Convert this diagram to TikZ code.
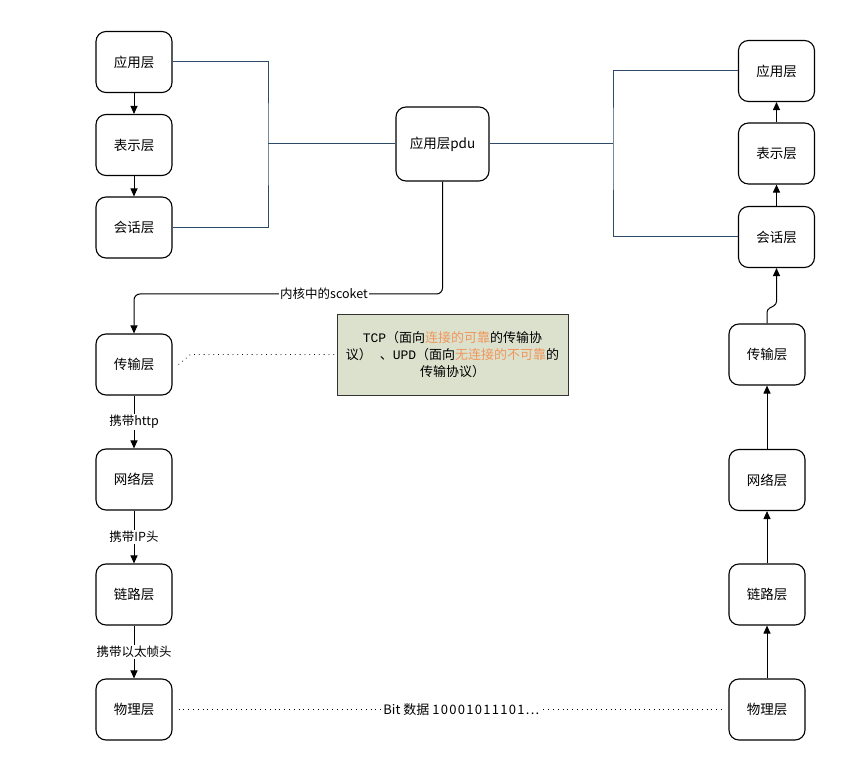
\documentclass[tikz,border=0pt]{standalone}
\usepackage{fontspec}
\setmainfont{Noto Sans CJK SC}
\newfontfamily\monofont{Liberation Mono}
\usetikzlibrary{arrows.meta}
\definecolor{bl}{RGB}{47,74,105}
\definecolor{calfill}{RGB}{220,225,206}
\definecolor{org}{RGB}{240,150,90}
\begin{document}
\begin{tikzpicture}[x=1pt,y=-1pt,
  layer/.style={draw=black,line width=1.1pt,rounded corners=10pt,minimum width=76pt,minimum height=61pt,inner sep=0pt,font=\fontsize{13.5}{15}\selectfont},
  arr/.style={line width=1pt,-{Triangle[length=8pt,width=7pt]}},
  bline/.style={draw=bl,line width=1pt},
  lab/.style={fill=white,inner sep=1pt,font=\fontsize{12.5}{14}\selectfont},
  dots/.style={line width=0.8pt,dash pattern=on 0.8pt off 4pt}]
\useasboundingbox (0,0) rectangle (868,762);
\fill[white] (0,0) rectangle (868,762);
% left column
\node[layer] (L1) at (134,62) {应用层};
\node[layer] (L2) at (134,145) {表示层};
\node[layer] (L3) at (134,227.5) {会话层};
\node[layer] (L4) at (134,364.5) {传输层};
\node[layer] (L5) at (134,479.5) {网络层};
\node[layer] (L6) at (134,594.5) {链路层};
\node[layer] (L7) at (134,709.5) {物理层};
% right column
\node[layer] (R1) at (776.5,71) {应用层};
\node[layer] (R2) at (776.5,153.5) {表示层};
\node[layer] (R3) at (776.5,237) {会话层};
\node[layer] (R4) at (767,354.5) {传输层};
\node[layer] (R5) at (767,480) {网络层};
\node[layer] (R6) at (767,594.5) {链路层};
\node[layer] (R7) at (767,709.5) {物理层};
% pdu
\node[layer,minimum width=93pt,minimum height=74pt] (pdu) at (442.5,144) {应用层pdu};
% blue brackets
\coordinate (lb) at (268,144);
\coordinate (rb) at (613,144);
\draw[bline] (L1.east) -| (lb) |- (L3.east);
\draw[bline] (lb) -- (pdu.west);
\draw[bline] (R1.west) -| (rb) |- (R3.west);
\draw[bline] (pdu.east) -- (rb);
% left arrows
\draw[arr] (L1) -- (L2);
\draw[arr] (L2) -- (L3);
\coordinate (k) at (134,294);
\draw[arr,rounded corners=6pt] (pdu.south) |- (k) -- (L4.north);
\node[lab] (klab) at (324,294) {内核中的scoket};
\draw[arr] (L4) -- (L5) node[lab,midway] (t1) {携带http};
\draw[arr] (L5) -- (L6) node[lab,midway] (t2) {携带IP头};
\draw[arr] (L6) -- (L7) node[lab,midway] (t3) {携带以太帧头};
% right arrows
\draw[arr] (R7) -- (R6);
\draw[arr] (R6) -- (R5);
\draw[arr] (R5) -- (R4);
\draw[arr,rounded corners=3pt] (R4.north) -- ++(0,-14) -- ++(9.5,-5) -- (R3.south);
\draw[arr] (R3) -- (R2);
\draw[arr] (R2) -- (R1);
% callout
\node[draw=black!80,fill=calfill,line width=0.9pt,minimum width=231pt,minimum height=81pt,inner sep=0pt,align=center,font=\fontsize{13}{17}\selectfont] (co) at (452.5,354.5)
  {{\monofont TCP}（面向\textcolor{org}{连接的可靠}的传输协\\议）\hspace{8pt}、{\monofont UPD}（面向\textcolor{org}{无连接的不可靠}的\\传输协议）};
\draw[dots] ([xshift=6pt]L4.east) -- ++(12,-10) -- (co.west);
% physical link
\draw[dots] ([xshift=6pt]L7.east) -- ([xshift=-6pt]R7.west) node[lab,pos=0.52,font=\fontsize{13}{15}\selectfont] (bit) {Bit 数据 {\addfontfeature{LetterSpace=10}10001011101...}};
\end{tikzpicture}
\end{document}
